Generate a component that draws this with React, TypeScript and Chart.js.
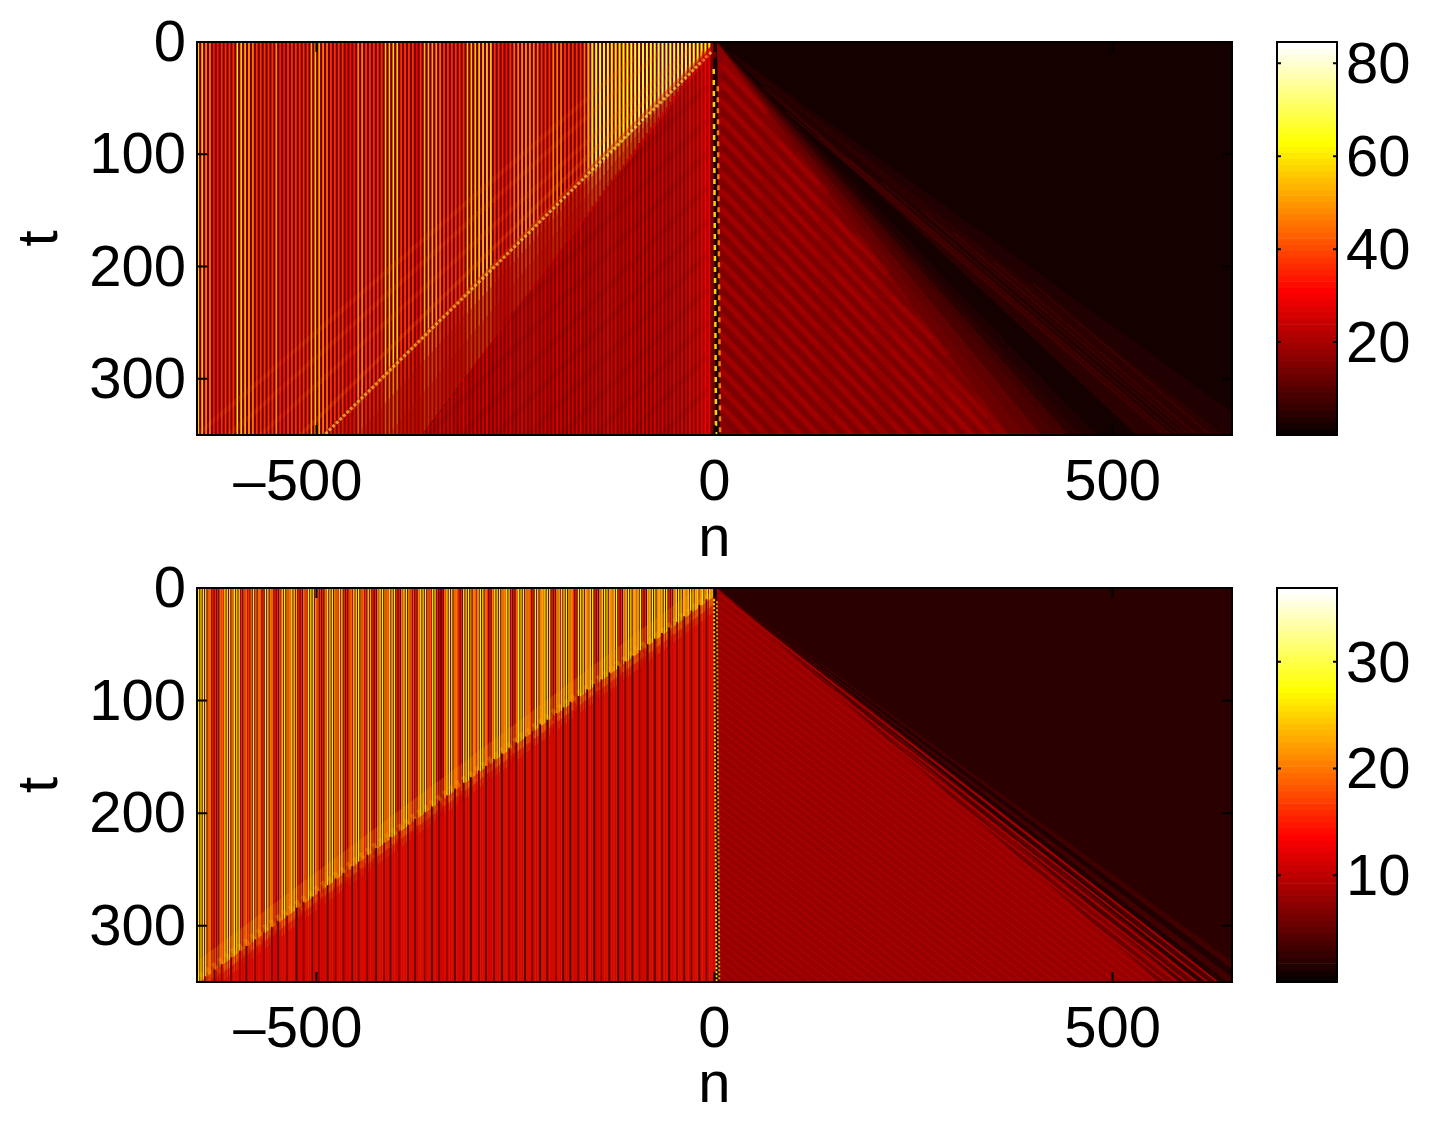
import React, { useEffect, useRef } from "react";
import { Chart, registerables } from "chart.js";

Chart.register(...registerables);

const hotMap = [
  "#0b0000","#150000","#200000","#2b0000","#350000","#400000","#4b0000","#550000","#600000","#6a0000","#750000","#800000",
  "#8b0000","#950000","#a00000","#aa0000","#b50000","#bf0000","#ca0000","#d50000","#df0000","#ea0000","#f50000","#ff0000",
  "#ff0b00","#ff1500","#ff2000","#ff2b00","#ff3500","#ff4000","#ff4b00","#ff5500","#ff6000","#ff6a00","#ff7500","#ff8000",
  "#ff8b00","#ff9500","#ffa000","#ffaa00","#ffb500","#ffbf00","#ffca00","#ffd500","#ffdf00","#ffea00","#fff500","#ffff00",
  "#ffff10","#ffff20","#ffff30","#ffff40","#ffff50","#ffff60","#ffff70","#ffff80","#ffff8f","#ffff9f","#ffffaf","#ffffbf",
  "#ffffcf","#ffffdf","#ffffef","#ffffff",
];

const xTicks = [-500, 0, 500];
const xLabels = ["\u2013500  \u200a", "0", "500"];
const yTicks = [0, 100, 200, 300];
const topScaleMax = 84.6;
const bottomScaleMax = 36.9;
const topBarTicks = [20, 40, 60, 80];
const bottomBarTicks = [10, 20, 30];

// top panel: peak of each vertical stripe, left to right
const topUpper = [
  60,60,50,48,32,32,36,36,36,36,65,65,58,55,50,36,36,36,36,36,
  50,34,32,36,36,36,36,36,36,52,58,58,50,46,36,36,36,36,32,32,
  34,50,50,36,36,36,36,36,58,58,62,62,44,36,36,36,30,36,55,55,
  52,52,46,36,36,36,36,36,
  44,56,58,60,64,66,68,66,44,36,34,32,36,46,50,52,54,52,50,46,
  44,36,44,48,50,48,44,36,36,36,36,46,52,60,64,66,66,64,60,60,
  62,64,66,68,70,70,68,68,66,66,68,70,70,68,68,66,66,68,70,68,
  66,66,64,64,
];
// top panel: stripe value under the slow front, and the t at which it starts
const topLower = [
  24,26,25,23,27,25,24,26,23,25,27,24,23,26,25,24,27,23,25,26,
  24,25,27,23,24,26,25,23,27,24,25,26,23,24,27,25,23,26,24,25,
  27,23,25,24,26,23,25,27,24,26,23,25,24,27,25,23,26,24,25,27,
  24,26,25,23,27,25,26,24,28,26,29,27,30,29,
];
const topLowerStart = [
  347,342,338,333,329,324,319,314,310,305,300,296,291,286,282,277,272,268,263,258,
  254,249,244,240,235,230,226,221,216,212,207,202,198,193,188,184,179,174,170,165,
  160,156,151,146,142,137,132,128,123,118,114,109,104,100,95,90,86,81,76,72,
  67,62,58,53,48,44,39,34,30,25,20,15,11,6,
];

// top panel: nested wedges right of n = 0 (n reached at t = 350, and value)
const topWedgeEnd = [690,640,600,565,530,505,480,460,445,430,410,390,370,345];
const topWedgeValue = [3.5,4.5,3,4,2.5,1.5,3,5,7,9,11,13,15,17];

// top panel: diagonal streaks right of n = 0
const topBrightT0 = [20,36,52,68,84,100,116,132,148,164,180,196,212,228,244,260,276,292,308,324];
const topBrightN1 = [66,142,217,293,364,345,324,302,281,259,238,216,194,173,151,130,108,86,65,43];
const topBrightT1 = [63,135,207,279,350,350,350,350,350,350,350,350,350,350,350,350,350,350,350,350];
const topDarkT0 = [28,44,60,76,92,108,124,140,156,172,188,204,220,236,252,268,284,300,316,332];
const topDarkN1 = [104,180,255,330,350,335,313,292,270,248,227,205,184,162,140,119,97,76,54,33];
const topDarkT1 = [99,171,243,315,341,350,350,350,350,350,350,350,350,350,350,350,350,350,350,350];
const topFaintN0 = [60,90,130,170,210,260,300,350,400];
const topFaintT0 = [40,62,85,105,125,150,170,195,215];
const topFaintN1 = [571,565,567,574,581,590,597,606,623];
const topFaintT1 = [350,350,350,350,350,350,350,350,350];

// top panel: diagonal features left of n = 0
const topBandN0 = [-4,-10,-40,-30,-70,-100];
const topBandT0 = [9,7,20,6,10,14];
const topBandN1 = [-490,-460,-520,-570,-610,-650];
const topBandT1 = [350,330,350,350,350,350];
const topFadeEnd = [-494,-450,-410];
const topTextureT0 = [40,70,100,130,160,190,220,250,280,310];
const topTextureT1 = [132,252,350,350,350,350,350,350,350,350];
const topTextureN1 = [-139,-265,-360,-318,-276,-234,-192,-150,-108,-66];

// bottom panel: one peak and one valley per stripe, left to right
const bottomPeaks = [
  27,27,27,27,20,19,16,16, 15,21,19,27,27,27,21,27, 27,27,16,19,19,17,21,27,
  21,20,19,16,27,27,21,19, 16,15,19,27,27,21,20,27, 27,22,16,16,20,19,27,27,
  27,21,19,16,16,21,27,27, 27,21,20,27,27,16,15,19, 19,27,27,27,20,19,17,27,
  22,16,15,21,27,27,21,20, 27,27,27,16,16,20,27,27, 21,19,17,16,21,27,27,27,
  20,19,27,27,15,13,13,19, 27,27,27,21,20,16,16,27, 27,27,22,21,19,27,27,27,
  21,16,16,21,27,27,27,22, 21,27,27,16,15,20,27,27, 27,22,21,17,16,27,27,23,
  22,27,27,27,16,15,22,23, 27,27,27,23,22,16,16,27, 27,27,23,22,27,27,16,16,
  22,27,27,27,23,23,27,27, 16,16,23,27,27,27,23,22, 27,27,16,16,23,27,27,27,
  23,23,27,27,27,16,16,23, 27,27,27,23,23,27,27,27, 23,27,23,27,23,27,28,27,
];
const bottomValleys = [
  6,6,6,6,19,8,6,5, 5,17,14,7,7,7,19,8, 8,8,5,18,12,8,7,7,
  6,19,8,6,7,6,18,8, 5,5,14,7,6,19,19,8, 7,7,6,5,18,12,7,6,
  7,19,8,5,5,17,7,6, 6,19,14,8,7,5,5,18, 10,7,7,6,19,10,6,7,
  7,5,5,18,7,6,19,17, 7,7,6,5,5,18,8,7, 19,8,6,5,18,7,6,7,
  19,12,7,6,4,4,5,18, 7,6,6,19,17,6,5,7, 6,7,6,20,12,7,6,6,
  19,5,5,17,7,6,6,21, 19,7,6,5,5,19,7,6, 7,21,19,6,5,7,6,21,
  20,7,6,6,5,5,21,12, 7,6,6,21,20,6,5,7, 6,6,22,19,7,6,5,4,
  19,7,6,6,21,20,7,6, 5,5,19,7,6,7,22,19, 7,6,5,5,21,7,6,6,
  22,20,7,6,6,5,5,21, 7,6,6,22,21,7,6,7, 21,8,21,8,21,8,21,10,
];
// bottom panel: dark columns under the front
const bottomDarkN = [
  -640,-628,-619,-607,-596,-588,-577,-566,-556,-548,-537,-525,-516,-505,-497,-486,-476,-466,-455,-447,
  -436,-425,-415,-407,-396,-385,-376,-364,-355,-346,-336,-326,-315,-306,-296,-287,-277,-267,-258,-249,
  -238,-229,-219,-210,-199,-190,-181,-171,-160,-151,-142,-132,-121,-112,-103,-94,-84,-75,-66,-57,
  -47,-38,-29,-19,-10,
];
const bottomDarkStart = [
  345,339,334,328,322,318,312,306,301,296,291,284,279,274,269,264,258,253,247,243,
  237,231,226,221,216,210,205,199,194,189,184,178,173,168,162,158,152,147,142,137,
  132,127,121,117,111,106,101,96,90,85,81,75,69,65,60,55,50,45,40,35,
  30,25,20,15,10,
];
const bottomDarkValue = [
  7,5,8,6,9,5,7,8,6,5,8,4,7,6,8,5,7,6,5,8,
  6,4,7,5,8,6,5,7,4,6,8,5,6,4,7,5,6,4,8,5,
  4,6,3,5,7,4,3,6,5,3,7,4,3,6,4,7,3,5,6,4,
  7,5,6,4,6,
];
// bottom panel: nested wedges right of n = 0
const bottomWedgeEnd = [686,672,658,644,632,620,608,596,584,572,558];
const bottomWedgeValue = [2.9,1.4,3,1.4,3.5,2,5,3.8,6.4,5.2,8];
// bottom panel: fine diagonal streaks
const bottomStreakT0 = [
  6,13,20,27,34,41,48,55,62,69,76,83,90,97,104,111,118,125,132,139,146,153,160,167,174,181,188,195,
  202,209,216,223,230,237,244,251,258,265,272,279,286,293,300,307,314,321,328,335,342,
];
const bottomStreakN1 = [
  632,619,606,593,581,568,555,542,530,517,504,491,479,466,453,440,428,415,402,389,377,364,351,338,326,313,300,287,
  275,262,249,236,224,211,198,185,173,160,147,134,122,109,96,83,71,58,45,32,20,
];

const heat = (v: number, vmax: number) =>
  hotMap[Math.max(0, Math.min(63, Math.floor((v / vmax) * 64)))];

const barsPainted = (xs: number[], lo: number[], colors: string[], px: number) => ({
  type: "bar",
  data: colors.map((_, j) => ({ x: xs[j], y: [lo[j], 350] })),
  backgroundColor: colors,
  barThickness: px,
  grouped: false,
  inflateAmount: 0,
  borderWidth: 0,
});
const bars = (xs: number[], lo: number[], values: number[], vmax: number, px: number) =>
  barsPainted(xs, lo, values.map((v) => heat(v, vmax)), px);

const gridFromRight = (len: number, last: number, step: number) =>
  Array.from({ length: len }, (_, j) => last - step * (len - 1 - j));

const wedge = (pts: number[][], color: string) => ({
  type: "line",
  data: pts.map(([x, y]) => ({ x, y })),
  borderWidth: 0,
  pointRadius: 0,
  fill: { value: 350 },
  backgroundColor: color,
});

const rule = (
  n0: number[], t0: number[], n1: number[], t1: number[],
  color: string, width: number, dash: number[] = [], dashOffset = 0,
) => ({
  type: "line",
  data: n0.flatMap((n, i) => [{ x: n, y: t0[i] }, { x: n1[i], y: t1[i] }, { x: null, y: null }]),
  borderColor: color,
  borderWidth: width,
  borderDash: dash,
  borderDashOffset: dashOffset,
  pointRadius: 0,
  fill: false,
  spanGaps: false,
});

const zeros = (len: number) => new Array(len).fill(0);

const topLayers = () => {
  const peaks = gridFromRight(topUpper.length, -6.5, 4.9);
  const lowerX = gridFromRight(topLower.length, -6.5, 4.9);
  const isYellow = (v: number) => v >= 46;
  const thin = topUpper.map((v, j) => ({ v, x: peaks[j], j })).filter((s) => isYellow(s.v) && s.j < 100);
  const wide = topUpper.map((v, j) => ({ v, x: peaks[j], j })).filter((s) => isYellow(s.v) && s.j >= 100);
  return [
    wedge([[-650, 0], [650, 0]], heat(2, topScaleMax)),
    wedge([[-650, 0], [2, 0]], heat(12, topScaleMax)),
    bars(peaks, zeros(topUpper.length), topUpper.map((v) => Math.min(v, 36)), topScaleMax, 1.9),
    bars(thin.map((s) => s.x), zeros(thin.length), thin.map((s) => s.v), topScaleMax, 1.2),
    bars(wide.map((s) => s.x), zeros(wide.length), wide.map((s) => s.v), topScaleMax, 1.9),
    rule(topBandN0.slice(3), topBandT0.slice(3), topBandN1.slice(3), topBandT1.slice(3), "rgba(255,110,0,0.14)", 5),
    ...topFadeEnd.map((end) => wedge([[0, 0], [end, 350]], "rgba(165,8,0,0.38)")),
    wedge([[2, 4], [-368, 350]], heat(14, topScaleMax)),
    bars(lowerX, topLowerStart, topLower, topScaleMax, 2),
    rule(topBandN0.slice(0, 1), topBandT0.slice(0, 1), topBandN1.slice(0, 1), topBandT1.slice(0, 1), "rgba(255,240,90,0.62)", 3, [3, 2]),
    rule(topBandN0.slice(1, 3), topBandT0.slice(1, 3), topBandN1.slice(1, 3), topBandT1.slice(1, 3), "rgba(255,120,0,0.20)", 4),
    rule(topTextureT0.map(() => -10), topTextureT0, topTextureN1, topTextureT1, "rgba(70,0,0,0.09)", 6),
    ...topWedgeEnd.map((end, i) => wedge([[3, 0], [end, 350]], heat(topWedgeValue[i], topScaleMax))),
    rule(topDarkT0.map(() => 8), topDarkT0, topDarkN1, topDarkT1, "rgba(80,0,0,0.22)", 6),
    rule(topBrightT0.map(() => 8), topBrightT0, topBrightN1, topBrightT1, "rgba(190,0,0,0.20)", 7),
    rule(topBrightT0.map(() => 8), topBrightT0, topBrightN1, topBrightT1, "rgba(195,0,0,0.30)", 3, [60, 22]),
    rule(topFaintN0, topFaintT0, topFaintN1, topFaintT1, "rgba(95,0,0,0.45)", 1.5),
    rule([1], [14], [4], [350], "#100000", 4),
    rule([-1], [24], [2], [350], "#ffd000", 2.5, [5, 6]),
    rule([4], [34], [7], [350], "#ff7a00", 2.5, [5, 6], 5),
    rule([-9, -15], [8, 8], [-9, -15], [350, 350], "rgba(230,0,0,0.5)", 2),
  ];
};

const bottomLayers = () => {
  const peaks = gridFromRight(bottomPeaks.length, -3, 3);
  const valleys = gridFromRight(bottomValleys.length, -1.5, 3);
  return [
    wedge([[-650, 0], [650, 0]], heat(1.8, bottomScaleMax)),
    bars(valleys, zeros(bottomValleys.length), bottomValleys, bottomScaleMax, 1.3),
    bars(peaks, zeros(bottomPeaks.length), bottomPeaks, bottomScaleMax, 1.25),
    rule([-4], [5], [-650], [346], "rgba(255,165,0,0.20)", 26),
    rule([-4], [9], [-650], [350], "rgba(255,190,0,0.25)", 12, [4, 4]),
    wedge([[2, 6], [-658, 356]], "rgba(214,4,0,0.50)"),
    wedge([[2, 13], [-658, 363]], "rgba(214,4,0,0.55)"),
    wedge([[2, 20], [-658, 370]], "rgba(214,4,0,0.65)"),
    bars(bottomDarkN, bottomDarkStart, bottomDarkValue, bottomScaleMax, 1.8),
    ...bottomWedgeEnd.map((end, i) => wedge([[3, 0], [end, 350]], heat(bottomWedgeValue[i], bottomScaleMax))),
    rule(bottomStreakT0.map(() => 6), bottomStreakT0, bottomStreakN1, bottomStreakT0.map(() => 350), heat(8.9, bottomScaleMax), 1.8),
    rule([1], [10], [4], [350], "#100000", 3),
    rule([-0.5], [10], [2.5], [350], "#ffe000", 2, [2, 2]),
    rule([3], [10], [6], [350], "#ff9000", 2, [2, 2], 2),
  ];
};

const fontFamily = "'Liberation Sans', Arial, sans-serif";
const tickFont = { family: fontFamily, size: 58 };

const frame = (tickLen: number, axisX: boolean) => ({
  id: "frame",
  afterDatasetsDraw(chart: any) {
    const { ctx, chartArea: a, scales } = chart;
    ctx.save();
    ctx.strokeStyle = "#000";
    ctx.lineWidth = 2;
    ctx.beginPath();
    for (const tick of scales.y.ticks) {
      const p = scales.y.getPixelForValue(tick.value);
      ctx.moveTo(a.left, p); ctx.lineTo(a.left + tickLen, p);
      ctx.moveTo(a.right, p); ctx.lineTo(a.right - tickLen, p);
    }
    if (axisX) {
      for (const tick of scales.x.ticks) {
        const p = scales.x.getPixelForValue(tick.value);
        ctx.moveTo(p, a.top); ctx.lineTo(p, a.top + tickLen);
        ctx.moveTo(p, a.bottom); ctx.lineTo(p, a.bottom - tickLen);
      }
    }
    ctx.stroke();
    ctx.strokeRect(a.left, a.top, a.right - a.left, a.bottom - a.top);
    ctx.restore();
  },
});

const noScalePad = (s: any) => {
  s.paddingTop = 0; s.paddingBottom = 0; s.paddingLeft = 0; s.paddingRight = 0;
};

const makePanel = (canvas: HTMLCanvasElement, layers: any[], bottomSize: number) =>
  new Chart(canvas, {
    type: "bar",
    data: { datasets: layers.map((d, i) => ({ ...d, order: layers.length - i })) },
    plugins: [frame(10, true)],
    options: {
      responsive: false,
      devicePixelRatio: 1,
      animation: false,
      events: [],
      layout: { padding: { top: 42, right: 28, left: 0, bottom: 0 } },
      plugins: { legend: { display: false }, tooltip: { enabled: false } },
      scales: {
        x: {
          type: "linear",
          min: -650,
          max: 650,
          offset: false,
          grid: { display: false, drawTicks: false, offset: false },
          border: { display: false },
          afterBuildTicks(s: any) { s.ticks = xTicks.map((value) => ({ value })); },
          afterFit(s: any) { s.height = bottomSize; noScalePad(s); },
          ticks: {
            autoSkip: false, maxRotation: 0, minRotation: 0, color: "#000", font: tickFont, padding: 14,
            callback: (v: number) => xLabels[xTicks.indexOf(v)],
          },
          title: { display: true, text: "n", color: "#000", font: tickFont, padding: { top: 0, bottom: 5 } },
        },
        y: {
          type: "linear",
          reverse: true,
          min: 0,
          max: 350,
          grid: { display: false, drawTicks: false },
          border: { display: false },
          afterBuildTicks(s: any) { s.ticks = yTicks.map((value) => ({ value })); },
          afterFit(s: any) { s.width = 197; noScalePad(s); },
          ticks: { autoSkip: false, color: "#000", font: tickFont, padding: 11, labelOffset: 3, callback: (v: number) => String(v) },
          title: { display: true, text: "t", color: "#000", font: tickFont, padding: { top: 6, bottom: 0 } },
        },
      },
    },
  } as any);

const makeBar = (canvas: HTMLCanvasElement, vmax: number, ticks: number[], bottomPad: number) =>
  new Chart(canvas, {
    type: "bar",
    data: {
      datasets: [{
        data: hotMap.map((_, i) => ({ x: 0, y: [(i * vmax) / 64, ((i + 1) * vmax) / 64] })),
        backgroundColor: hotMap,
        barThickness: 60,
        grouped: false,
        borderWidth: 0,
      }],
    },
    plugins: [frame(4, false)],
    options: {
      responsive: false,
      devicePixelRatio: 1,
      animation: false,
      events: [],
      layout: { padding: { top: 42, left: 37, right: 0, bottom: bottomPad } },
      plugins: { legend: { display: false }, tooltip: { enabled: false } },
      scales: {
        x: { type: "linear", min: -1, max: 1, display: false, offset: false },
        y: {
          type: "linear",
          position: "right",
          min: 0,
          max: vmax,
          grid: { display: false, drawTicks: false },
          border: { display: false },
          afterBuildTicks(s: any) { s.ticks = ticks.map((value) => ({ value })); },
          afterFit(s: any) { s.width = 108; noScalePad(s); },
          ticks: { autoSkip: false, color: "#000", font: tickFont, padding: 9, labelOffset: 4, callback: (v: number) => String(v) },
        },
      },
    },
  } as any);

const place = (left: number, top: number): React.CSSProperties => ({ position: "absolute", left, top, display: "block" });

export default function App() {
  const a = useRef<HTMLCanvasElement>(null);
  const b = useRef<HTMLCanvasElement>(null);
  const c = useRef<HTMLCanvasElement>(null);
  const d = useRef<HTMLCanvasElement>(null);
  useEffect(() => {
    const charts = [
      makePanel(a.current!, topLayers(), 145),
      makeBar(b.current!, topScaleMax, topBarTicks, 145),
      makePanel(c.current!, bottomLayers(), 144),
      makeBar(d.current!, bottomScaleMax, bottomBarTicks, 144),
    ];
    return () => charts.forEach((ch) => ch.destroy());
  }, []);
  return (
    <div style={{ position: "absolute", left: 0, top: 0, width: 1445, height: 1126, overflow: "hidden", background: "#fff" }}>
      <canvas ref={a} width={1260} height={580} style={place(0, 0)} />
      <canvas ref={b} width={1445 - 1240} height={580} style={place(1240, 0)} />
      <canvas ref={c} width={1260} height={580} style={place(0, 546)} />
      <canvas ref={d} width={1445 - 1240} height={580} style={place(1240, 546)} />
    </div>
  );
}
